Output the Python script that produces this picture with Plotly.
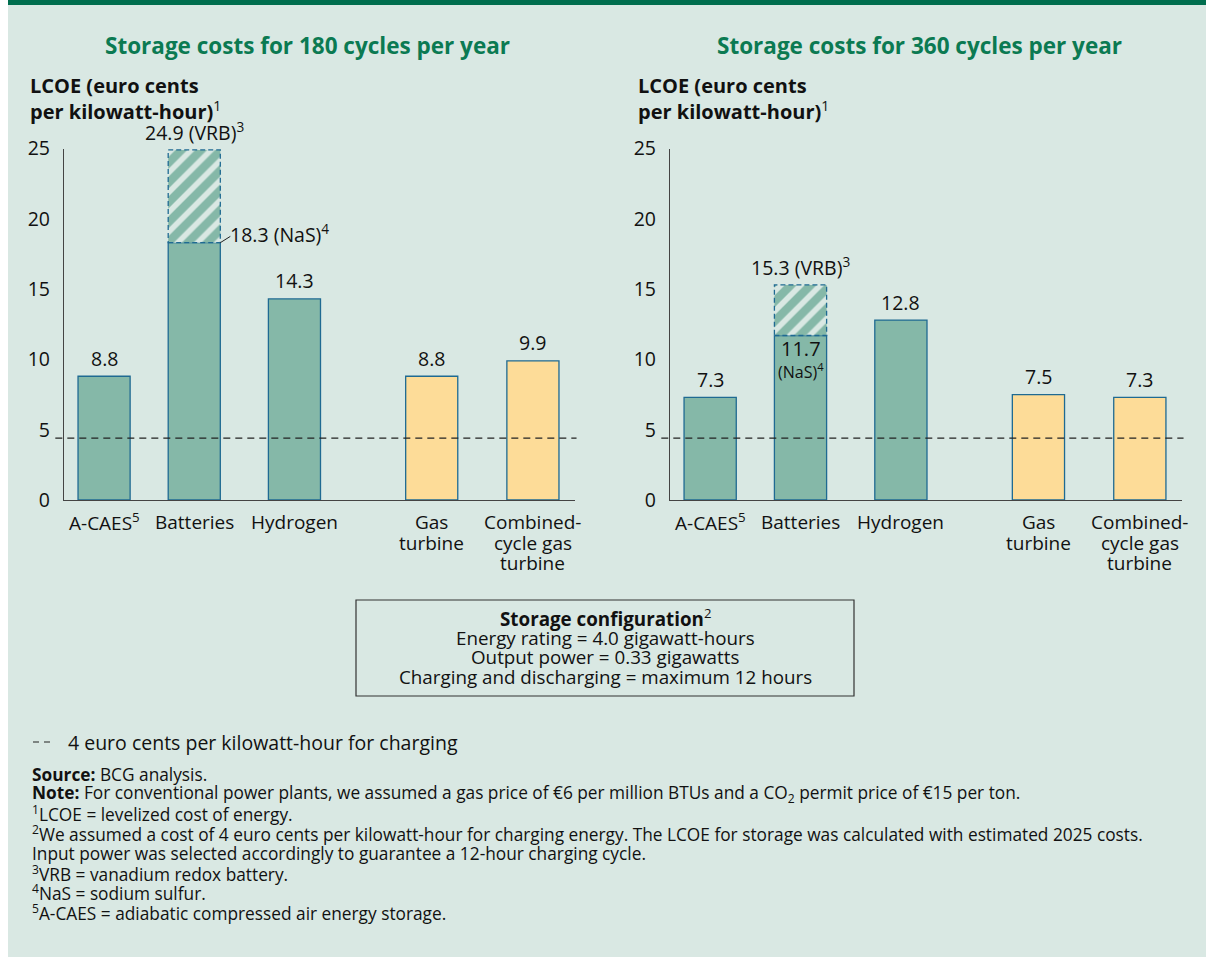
import plotly.graph_objects as go

# ---------------- data ----------------
categories = ["A-CAES<sup>5</sup>", "Batteries", "Hydrogen", "Gas<br>turbine", "Combined-<br>cycle gas<br>turbine"]
plant_type = ["storage", "storage", "storage", "conventional", "conventional"]
lcoe_180 = [8.8, 18.3, 14.3, 8.8, 9.9]          # battery value = NaS
lcoe_360 = [7.3, 11.7, 12.8, 7.5, 7.3]
battery_vrb_180 = 24.9
battery_vrb_360 = 15.3
charging_line = 4.4
y_ticks = [0, 5, 10, 15, 20, 25]

titles = ["Storage costs for 180 cycles per year", "Storage costs for 360 cycles per year"]
y_title = "<b>LCOE (euro cents<br>per kilowatt-hour)</b><sup>1</sup>"
config_lines = ["<b>Storage configuration</b><sup>2</sup>",
                "Energy rating = 4.0 gigawatt-hours",
                "Output power = 0.33 gigawatts",
                "Charging and discharging = maximum 12 hours"]
legend_text = "4 euro cents per kilowatt-hour for charging"
footnotes = [
    "<b>Source:</b> BCG analysis.",
    "<b>Note:</b> For conventional power plants, we assumed a gas price of €6 per million BTUs and a CO<sub>2</sub> permit price of €15 per ton.",
    "<sup>1</sup>LCOE = levelized cost of energy.",
    "<sup>2</sup>We assumed a cost of 4 euro cents per kilowatt-hour for charging energy. The LCOE for storage was calculated with estimated 2025 costs.",
    "Input power was selected accordingly to guarantee a 12-hour charging cycle.",
    "<sup>3</sup>VRB = vanadium redox battery.",
    "<sup>4</sup>NaS = sodium sulfur.",
    "<sup>5</sup>A-CAES = adiabatic compressed air energy storage.",
]

# ---------------- layout / style ----------------
W, H = 1206, 957
FONT = "Open Sans"
slot_positions = [0, 0.9, 1.9, 3.27, 4.28]
BAR_W = 0.52
GREEN = "#85b8a8"
YELLOW = "#fddc98"
OUTLINE = "#1f6a92"
BG = "#d9e8e3"
TITLE_GREEN = "#0b7a52"
TEXT = "#111111"

def fx(px):
    return px / W

def fy(py):
    return 1 - py / H

fill_colors = [GREEN if t == "storage" else YELLOW for t in plant_type]
BATT = categories.index("Batteries")

fig = go.Figure()
panels = [
    dict(vals=lcoe_180, vrb=battery_vrb_180, xa="x", ya="y", dom=(64, 575), cx=307),
    dict(vals=lcoe_360, vrb=battery_vrb_360, xa="x2", ya="y2", dom=(670, 1182), cx=919),
]

annotations = []
shapes = [
    dict(type="rect", xref="paper", yref="paper", x0=fx(8), x1=1, y0=0, y1=1,
         fillcolor=BG, line_width=0, layer="below"),
    dict(type="rect", xref="paper", yref="paper", x0=fx(8), x1=1, y0=fy(5), y1=1,
         fillcolor="#006e4e", line_width=0, layer="below"),
]

def ann(**kw):
    d = dict(showarrow=False, xanchor="center", yanchor="middle")
    d.update(kw)
    annotations.append(d)

LBL = 19.5
for i, p in enumerate(panels):
    vals = p["vals"]
    fig.add_trace(go.Bar(
        x=slot_positions, y=vals, width=BAR_W, xaxis=p["xa"], yaxis=p["ya"],
        marker=dict(color=fill_colors, line=dict(color=OUTLINE, width=1.3)),
        showlegend=False, hoverinfo="skip",
    ))
    nas = vals[BATT]
    bx = slot_positions[BATT]
    fig.add_trace(go.Bar(
        x=[bx], y=[p["vrb"] - nas], base=[nas], width=BAR_W, xaxis=p["xa"], yaxis=p["ya"],
        marker=dict(color=BG, line=dict(width=0),
                    pattern=dict(shape="/", fgcolor=GREEN, bgcolor=BG, fgopacity=1,
                                 size=14, solidity=0.6)),
        showlegend=False, hoverinfo="skip",
    ))
    xref, yref = p["xa"], p["ya"]
    # dashed outline of hatched segment
    shapes.append(dict(type="rect", xref=xref, yref=yref, x0=bx - BAR_W / 2, x1=bx + BAR_W / 2,
                       y0=nas, y1=p["vrb"], line=dict(color=OUTLINE, width=1.3, dash="5px,3px")))
    # charging cost line
    shapes.append(dict(type="line", xref=f"{xref} domain", yref=yref, x0=-0.017, x1=1.003,
                       y0=charging_line, y1=charging_line,
                       line=dict(color="#222", width=1.2, dash="7px,5px")))
    # value labels
    for j, v in enumerate(vals):
        if j == BATT:
            continue
        ann(x=slot_positions[j], y=v, xref=xref, yref=yref, text=f"{v:.1f}",
            yshift=18, font=dict(size=LBL, color=TEXT))
    ann(x=bx, y=p["vrb"], xref=xref, yref=yref, text=f"{p['vrb']:.1f} (VRB)<sup>3</sup>",
        yshift=18, font=dict(size=LBL, color=TEXT))
    if i == 0:
        ann(x=bx + BAR_W / 2, y=nas, xref=xref, yref=yref, text=f"{nas:.1f} (NaS)<sup>4</sup>",
            xanchor="left", xshift=8, yshift=9, font=dict(size=LBL, color=TEXT))
        shapes.append(dict(type="line", xref=xref, yref=yref, x0=bx + BAR_W / 2, y0=nas,
                           x1=bx + BAR_W / 2 + 0.1, y1=nas + 0.45, line=dict(color="#222", width=1)))
    else:
        ann(x=bx, y=nas, xref=xref, yref=yref, text=f"{nas:.1f}",
            yshift=-13, font=dict(size=20, color=TEXT))
        ann(x=bx, y=nas, xref=xref, yref=yref, text="(NaS)<sup>4</sup>",
            yshift=-35, font=dict(size=16, color=TEXT))
    # category labels (one annotation per line for tight line spacing)
    for j, cat in enumerate(categories):
        for k, part in enumerate(cat.split("<br>")):
            ann(x=slot_positions[j], y=fy(522 + 20.5 * k), xref=xref, yref="paper", text=part,
                font=dict(size=19, color=TEXT))
    # titles
    ann(x=fx(p["cx"]), y=fy(46), xref="paper", yref="paper", text=f"<b>{titles[i]}</b>",
        font=dict(size=22.5, color=TITLE_GREEN))
    ann(x=fx(28 if i == 0 else 636), y=fy(99), xref="paper", yref="paper",
        text=y_title, xanchor="left", align="left", font=dict(size=20, color=TEXT))

axis_common = dict(showgrid=False, zeroline=False, fixedrange=True, showline=True, automargin=False,
                   linecolor="#444", linewidth=1.2)
for i, p in enumerate(panels):
    sfx = "" if i == 0 else "2"
    fig.update_layout(**{
        f"xaxis{sfx}": dict(axis_common, domain=[fx(p["dom"][0]), fx(p["dom"][1])],
                            range=[-0.4, 4.7], tickvals=slot_positions, showticklabels=False,
                            ticks="", anchor="y" + sfx),
        f"yaxis{sfx}": dict(axis_common, domain=[fy(500), fy(148.5)], range=[0, 25],
                            tickvals=y_ticks, ticks="outside", tickcolor="rgba(0,0,0,0)", ticklen=9,
                            tickfont=dict(size=19.5, color=TEXT), anchor="x" + sfx),
    })

# storage configuration box
shapes.append(dict(type="rect", xref="paper", yref="paper", x0=fx(356), x1=fx(854), y0=fy(696), y1=fy(600),
                   line=dict(color="#333", width=1.2)))
for k, line in enumerate(config_lines):
    ann(x=fx(605), y=fy(618 + 19.5 * k), xref="paper", yref="paper", text=line,
        font=dict(size=18.8, color=TEXT))

# legend
shapes.append(dict(type="line", xref="paper", yref="paper", x0=fx(33), x1=fx(54), y0=fy(742), y1=fy(742),
                   line=dict(color="#222", width=1.2, dash="6px,5px")))
ann(x=fx(66), y=fy(742), xref="paper", yref="paper", text=legend_text,
    xanchor="left", font=dict(size=19.5, color=TEXT))

for k, line in enumerate(footnotes):
    ann(x=fx(30), y=fy(774 + 19.8 * k), xref="paper", yref="paper", text=line,
        xanchor="left", font=dict(size=17.3, color=TEXT))

fig.update_layout(
    width=W, height=H, margin=dict(l=0, r=0, t=0, b=0, autoexpand=False),
    paper_bgcolor="white", plot_bgcolor="rgba(0,0,0,0)",
    font=dict(family=FONT, color=TEXT), barmode="overlay", showlegend=False,
    shapes=shapes, annotations=annotations,
)

fig.write_html("out.html", config={"displayModeBar": False},
               post_script="document.body.style.margin='0';")
